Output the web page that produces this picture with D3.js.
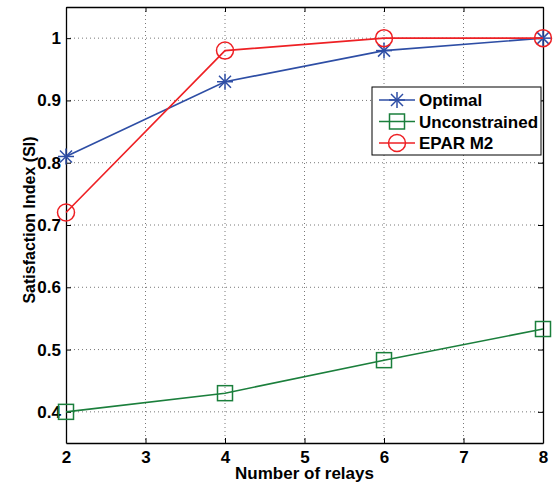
<!DOCTYPE html>
<html>
<head>
<meta charset="utf-8">
<script src="https://cdn.jsdelivr.net/npm/d3@7"></script>
<style>
body { margin: 0; background: #fff; }
svg { font-family: "Liberation Sans", Arial, sans-serif; font-weight: bold; }
</style>
</head>
<body>
<svg></svg>
<script>
var relays = [2, 4, 6, 8];
var optimal = [0.81, 0.93, 0.98, 1.0];
var unconstrained = [0.40, 0.43, 0.483, 0.533];
var eparM2 = [0.72, 0.98, 1.0, 1.0];
var xTicks = [2, 3, 4, 5, 6, 7, 8];
var yTicks = [0.4, 0.5, 0.6, 0.7, 0.8, 0.9, 1];

var svgWidth = 558, svgHeight = 487;
var pLeft = 66, pRight = 543, pTop = 7, pBottom = 443;

var svg = d3.select('svg')
  .attr('width', svgWidth)
  .attr('height', svgHeight);

var x = d3.scaleLinear().domain([2, 8]).range([pLeft, pRight]);
var y = d3.scaleLinear().domain([0.35, 1.05]).range([pBottom, pTop]);

// grid
svg.append("g").selectAll("line")
  .data(xTicks.slice(1, -1))
  .enter().append("line")
  .attr("x1", function(d) { return x(d); })
  .attr("x2", function(d) { return x(d); })
  .attr("y1", pTop).attr("y2", pBottom)
  .attr("stroke", "#555").attr("stroke-width", 0.8)
  .attr("stroke-dasharray", "1,3");
svg.append("g").selectAll("line")
  .data(yTicks)
  .enter().append("line")
  .attr("y1", function(d) { return y(d); })
  .attr("y2", function(d) { return y(d); })
  .attr("x1", pLeft).attr("x2", pRight)
  .attr("stroke", "#555").attr("stroke-width", 0.8)
  .attr("stroke-dasharray", "1,3");

// axes (ticks inside, mirrored)
var fmt = function(d) { return d === 1 ? "1" : d3.format(".1f")(d); };
function styleText(g) {
  g.select(".domain").attr("stroke-width", 1.3);
  g.selectAll("text").attr("font-size", 17).attr("font-family", "Liberation Sans").attr("font-weight", "bold").attr("fill", "#000");
}
svg.append("g")
  .attr("transform", "translate(0," + pBottom + ")")
  .call(d3.axisBottom(x).tickValues(xTicks).tickFormat(d3.format("d")).tickSize(-5).tickPadding(8).tickSizeOuter(0))
  .call(styleText);
svg.append("g")
  .attr("transform", "translate(0," + pTop + ")")
  .call(d3.axisTop(x).tickValues(xTicks).tickSize(-5).tickFormat("").tickSizeOuter(0))
  .call(styleText);
svg.append("g")
  .attr("transform", "translate(" + pLeft + ",0)")
  .call(d3.axisLeft(y).tickValues(yTicks).tickFormat(fmt).tickSize(-5).tickPadding(5).tickSizeOuter(0))
  .call(styleText);
svg.append("g")
  .attr("transform", "translate(" + pRight + ",0)")
  .call(d3.axisRight(y).tickValues(yTicks).tickSize(-5).tickFormat("").tickSizeOuter(0))
  .call(styleText);

// axis labels
svg.append("text")
  .text("Number of relays")
  .attr("x", (pLeft + pRight) / 2)
  .attr("y", 479)
  .attr("text-anchor", "middle")
  .attr("font-size", 17);
svg.append("text")
  .text("Satisfaction Index (SI)")
  .attr("transform", "translate(35,220) rotate(-90)")
  .attr("text-anchor", "middle")
  .attr("font-size", 16);

var series = [
  { name: "Optimal", values: optimal, color: "#2e4ea5", marker: "star" },
  { name: "Unconstrained", values: unconstrained, color: "#1b7f3c", marker: "square" },
  { name: "EPAR M2", values: eparM2, color: "#ee2024", marker: "circle" }
];

var line = d3.line()
  .x(function(d, i) { return x(relays[i]); })
  .y(function(d) { return y(d); });

function drawMarker(g, type, cx, cy, color) {
  if (type === "star") {
    var r = 8, rd = 6;
    var segs = [[0, -r, 0, r], [-r, 0, r, 0], [-rd, -rd, rd, rd], [-rd, rd, rd, -rd]];
    segs.forEach(function(s) {
      g.append("line")
        .attr("x1", cx + s[0]).attr("y1", cy + s[1])
        .attr("x2", cx + s[2]).attr("y2", cy + s[3])
        .attr("stroke", color).attr("stroke-width", 1.5);
    });
  } else if (type === "square") {
    g.append("rect")
      .attr("x", cx - 7.5).attr("y", cy - 7.5)
      .attr("width", 15).attr("height", 15)
      .attr("fill", "none").attr("stroke", color).attr("stroke-width", 1.5);
  } else {
    g.append("circle")
      .attr("cx", cx).attr("cy", cy).attr("r", 8.5)
      .attr("fill", "none").attr("stroke", color).attr("stroke-width", 1.5);
  }
}

series.forEach(function(s) {
  svg.append("path")
    .datum(s.values)
    .attr("d", line)
    .attr("fill", "none")
    .attr("stroke", s.color)
    .attr("stroke-width", 1.6);
  var g = svg.append("g");
  s.values.forEach(function(v, i) {
    drawMarker(g, s.marker, x(relays[i]), y(v), s.color);
  });
});

// legend
var legend = svg.append("g");
legend.append("rect")
  .attr("x", 372).attr("y", 87)
  .attr("width", 169).attr("height", 68)
  .attr("fill", "#fff").attr("stroke", "#000").attr("stroke-width", 1);
series.forEach(function(s, i) {
  var ly = 100 + i * 21.5;
  legend.append("line")
    .attr("x1", 379).attr("x2", 415)
    .attr("y1", ly).attr("y2", ly)
    .attr("stroke", s.color).attr("stroke-width", 1.6);
  drawMarker(legend, s.marker, 397, ly, s.color);
  legend.append("text")
    .text(s.name)
    .attr("x", 419).attr("y", ly + 6)
    .attr("font-size", 17);
});
</script>
</body>
</html>
